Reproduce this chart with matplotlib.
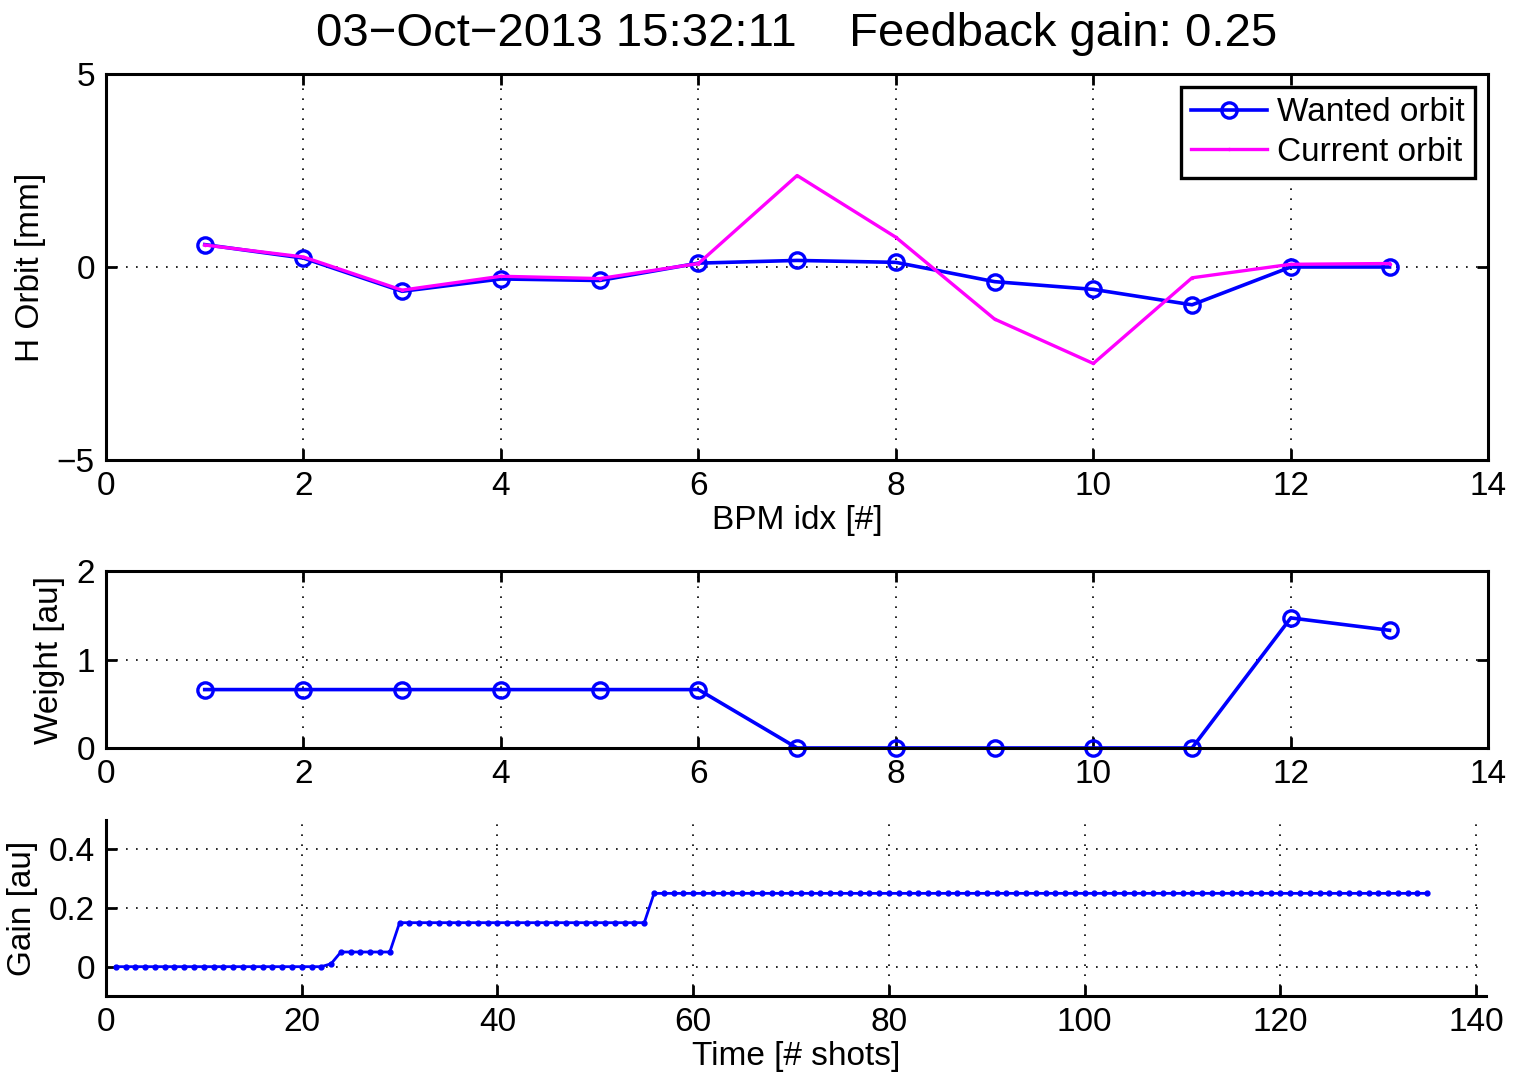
import numpy as np
import matplotlib
matplotlib.use("Agg")
import matplotlib.pyplot as plt

plt.rcParams['font.family'] = ['Liberation Sans', 'DejaVu Sans']
plt.rcParams['axes.unicode_minus'] = True

bpm_idx = list(range(1, 14))
wanted_orbit = [0.58, 0.23, -0.63, -0.31, -0.35, 0.10, 0.17, 0.12, -0.38, -0.58, -0.98, 0.0, 0.0]
current_orbit = [0.57, 0.26, -0.60, -0.24, -0.30, 0.09, 2.37, 0.77, -1.35, -2.50, -0.28, 0.07, 0.09]
weights = [0.66, 0.66, 0.66, 0.66, 0.66, 0.66, 0.0, 0.0, 0.0, 0.0, 0.0, 1.47, 1.33]

shots = list(range(1, 136))
gain = [0.0] * 22 + [0.01] + [0.05] * 6 + [0.15] * 26 + [0.25] * 80

title = "03\u2212Oct\u22122013 15:32:11    Feedback gain: 0.25"

FS = 24
fig = plt.figure(figsize=(15.14, 10.77), dpi=100)

def style(ax, box=True):
    for s in ax.spines.values():
        s.set_linewidth(2.2)
    if not box:
        ax.spines['top'].set_visible(False)
        ax.spines['right'].set_visible(False)
    ax.tick_params(direction='in', length=8, width=2.0, top=box, right=box,
                   labelsize=FS, pad=8)
    ax.grid(True, linestyle=(0, (1, 5)), color='black', linewidth=1.2)

ax1 = fig.add_axes([0.070, 0.5729, 0.913, 0.3584])
ax1.plot(bpm_idx, wanted_orbit, '-o', color='blue', lw=2.6, ms=11, mew=2.4,
         mfc='none', label='Wanted orbit')
ax1.plot(bpm_idx, current_orbit, '-', marker='.', ms=3, color='magenta', lw=2.4,
         label='Current orbit')
ax1.set_xlim(0, 14)
ax1.set_ylim(-5, 5)
ax1.set_xticks(range(0, 15, 2))
ax1.set_yticks([-5, 0, 5])
ax1.set_xlabel('BPM idx [#]', fontsize=FS, labelpad=2)
ax1.set_ylabel('H Orbit [mm]', fontsize=FS, labelpad=8)
style(ax1)
leg = ax1.legend(loc='upper right', fontsize=FS, frameon=True, fancybox=False,
                 edgecolor='black', framealpha=1, handlelength=2.3,
                 borderaxespad=0.4, handletextpad=0.3, borderpad=0.3,
                 labelspacing=0.25)
leg.get_frame().set_linewidth(2.4)
ax1.set_title(title, fontsize=34, pad=20)

ax2 = fig.add_axes([0.070, 0.3055, 0.913, 0.1643])
ax2.plot(bpm_idx, weights, '-o', color='blue', lw=2.6, ms=11, mew=2.4, mfc='none',
         clip_on=False)
ax2.set_xlim(0, 14)
ax2.set_ylim(0, 2)
ax2.set_xticks(range(0, 15, 2))
ax2.set_yticks([0, 1, 2])
ax2.set_ylabel('Weight [au]', fontsize=FS, labelpad=8)
style(ax2)

ax3 = fig.add_axes([0.070, 0.0752, 0.9115, 0.1634])
ax3.plot(shots, gain, '-', marker='.', color='blue', lw=2.0, ms=7)
ax3.set_xlim(0, 141)
ax3.set_ylim(-0.1, 0.5)
ax3.set_xticks(range(0, 141, 20))
ax3.set_yticks([0, 0.2, 0.4])
ax3.set_yticklabels(['0', '0.2', '0.4'])
ax3.set_xlabel('Time [# shots]', fontsize=FS, labelpad=2)
ax3.set_ylabel('Gain [au]', fontsize=FS, labelpad=8)
style(ax3, box=False)

fig.savefig('out.png', dpi=100)
